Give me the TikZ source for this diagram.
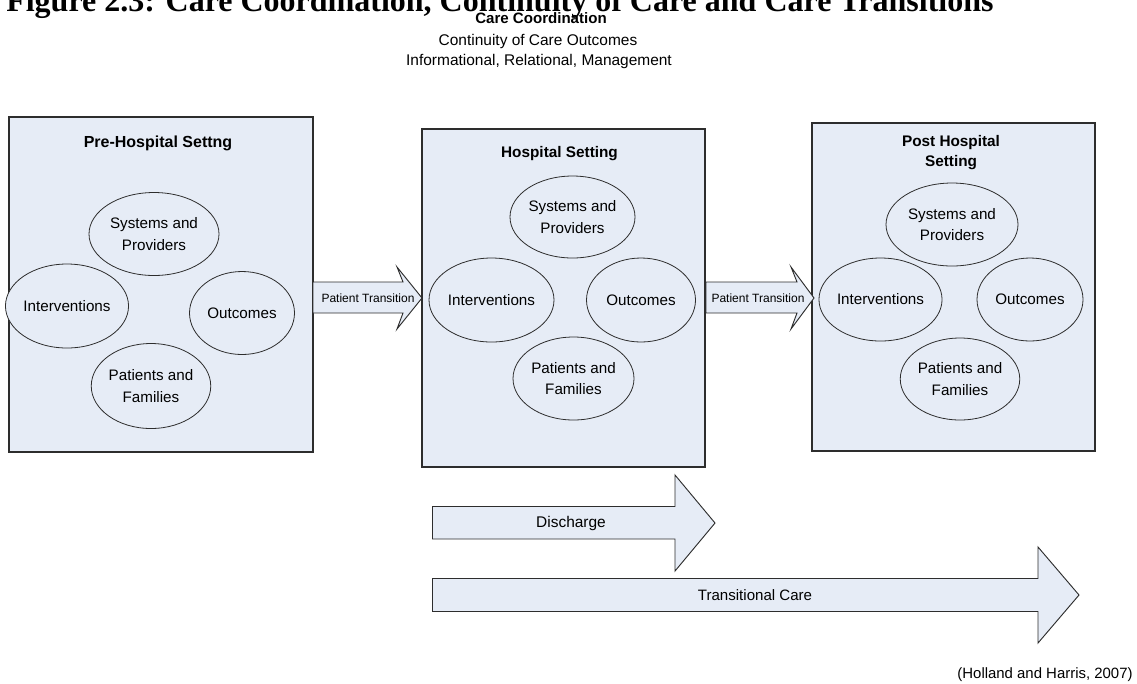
\documentclass[tikz,border=0pt]{standalone}
\usepackage{fontspec}
\setmainfont{Liberation Sans}
\newfontfamily\figtitlefont{Liberation Serif}
\usetikzlibrary{shapes.geometric}
\definecolor{fillblue}{RGB}{230,236,246}
\definecolor{edgegray}{RGB}{45,45,45}
\begin{document}
\begin{tikzpicture}[x=0.75pt,y=-0.75pt,
  box/.style={draw=edgegray, fill=fillblue, line width=0.8pt, rectangle, inner sep=0pt},
  ell/.style={draw=edgegray, fill=fillblue, line width=0.6pt, ellipse, inner sep=0pt, align=center,
    font=\fontsize{11.4pt}{16pt}\selectfont},
  btitle/.style={font=\bfseries\fontsize{11.5pt}{15pt}\selectfont, align=center, inner sep=0pt},
  blockarrow/.style={draw=edgegray, fill=fillblue, line width=0.7pt, line join=miter},
  alabel/.style={inner sep=0pt, font=\fontsize{9pt}{11pt}\selectfont},
  blabel/.style={inner sep=0pt, font=\fontsize{11.6pt}{14pt}\selectfont},
  plain/.style={inner sep=0pt}]
\useasboundingbox (0,0) rectangle (1137,683);
\clip (0,0) rectangle (1137,683);

% heading
\node[plain, anchor=base west, font=\figtitlefont\bfseries\fontsize{24pt}{28pt}\selectfont] (title) at (6,11.5)
  {Figure 2.3: Care Coordination, Continuity of Care and Care Transitions};
\node[plain, anchor=base, font=\bfseries\fontsize{11.3pt}{14pt}\selectfont] (cc) at (541,23.5) {Care Coordination};
\node[plain, anchor=base, font=\fontsize{11.6pt}{14pt}\selectfont] (coc) at (538,45) {Continuity of Care Outcomes};
\node[plain, anchor=base, font=\fontsize{11.6pt}{14pt}\selectfont] (irm) at (539,65) {Informational, Relational, Management};

% setting boxes
\node[box, minimum width=228pt, minimum height=251.25pt] (B1) at (161,284.5) {};
\node[box, minimum width=212.25pt, minimum height=253.5pt] (B2) at (563.5,298) {};
\node[box, minimum width=212.25pt, minimum height=246pt] (B3) at (953.5,287) {};

\node[btitle, font=\bfseries\fontsize{12pt}{15pt}\selectfont] (T1) at (158,143) {Pre-Hospital Settng};
\node[btitle] (T2) at (559.5,154) {Hospital Setting};
\node[btitle] (T3) at (951,153) {Post Hospital\\Setting};

% box 1 ellipses
\node[ell, minimum width=97.5pt, minimum height=62.25pt] (S1) at (154,234) {Systems and\\Providers};
\node[ell, minimum width=88.5pt, minimum height=63pt] (I1) at (67,306) {Interventions};
\node[ell, minimum width=78.75pt, minimum height=62.25pt] (O1) at (242,313) {Outcomes};
\node[ell, minimum width=89.25pt, minimum height=63.75pt] (P1) at (151,386) {Patients and\\Families};

% box 2 ellipses
\node[ell, minimum width=93.75pt, minimum height=61.5pt] (S2) at (572.5,217) {Systems and\\Providers};
\node[ell, minimum width=93.75pt, minimum height=63pt] (I2) at (491.5,300) {Interventions};
\node[ell, minimum width=81.75pt, minimum height=63pt] (O2) at (641,300) {Outcomes};
\node[ell, minimum width=90.75pt, minimum height=62.25pt] (P2) at (573.5,378.5) {Patients and\\Families};

% box 3 ellipses
\node[ell, minimum width=99pt, minimum height=62.25pt] (S3) at (952,224.5) {Systems and\\Providers};
\node[ell, minimum width=86.25pt, minimum height=62.25pt] (I3) at (880.5,299.5) {Interventions};
\node[ell, minimum width=79.5pt, minimum height=62.25pt] (O3) at (1030,299.5) {Outcomes};
\node[ell, minimum width=88.5pt, minimum height=61.5pt] (P3) at (960,379) {Patients and\\Families};

% patient transition arrows
\draw[blockarrow] (313,282) -- (403,282) -- (397,267) -- (422,298) -- (397,329) -- (403,313) -- (313,313) -- cycle;
\node[alabel] (PT1) at (368,298) {Patient Transition};
\draw[blockarrow] (706,282) -- (797,282) -- (791,267) -- (814,298) -- (791,329) -- (797,313) -- (706,313) -- cycle;
\node[alabel] (PT2) at (758,298) {Patient Transition};

% discharge and transitional care arrows
\draw[blockarrow] (432.5,506.5) -- (675,506.5) -- (675,475) -- (715,523) -- (675,571) -- (675,539) -- (432.5,539) -- cycle;
\node[blabel] (DC) at (571,523) {Discharge};
\draw[blockarrow] (432.5,578.5) -- (1038,578.5) -- (1038,547) -- (1079,595) -- (1038,643) -- (1038,611.5) -- (432.5,611.5) -- cycle;
\node[blabel, font=\fontsize{11.3pt}{14pt}\selectfont] (TC) at (755,595) {Transitional Care};

% source
\node[plain, font=\fontsize{11.2pt}{14pt}\selectfont] (src) at (1045,675) {(Holland and Harris, 2007)};
\end{tikzpicture}
\end{document}
